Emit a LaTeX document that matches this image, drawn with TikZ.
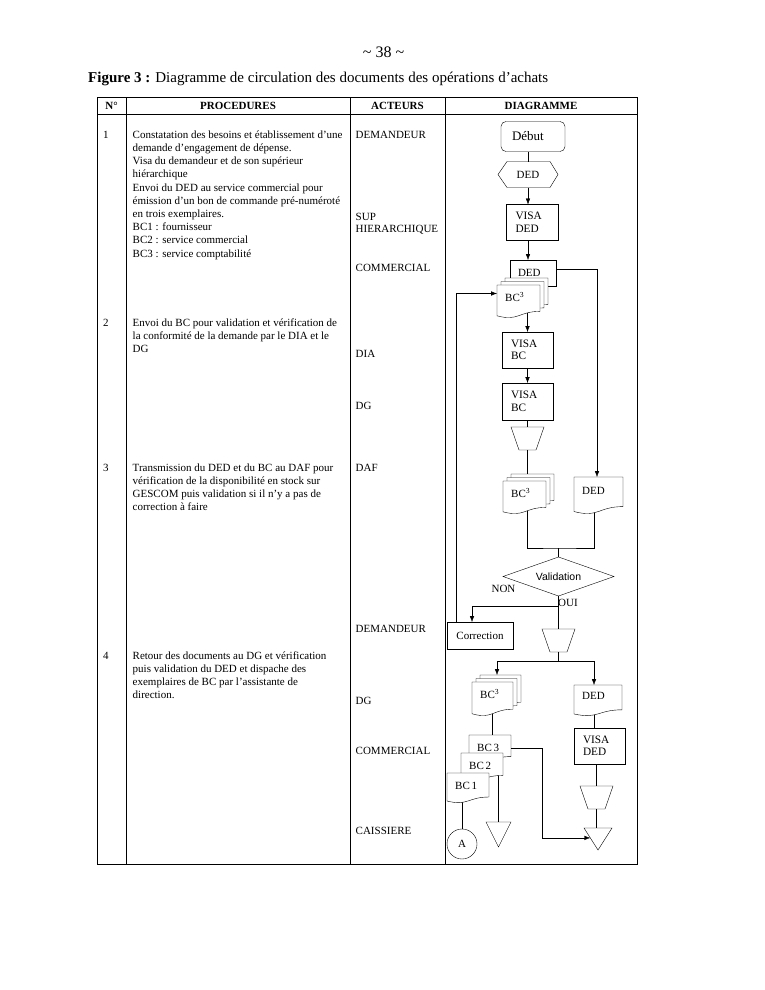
\documentclass[tikz,border=0pt]{standalone}
\usepackage{fontspec}
\setmainfont{Liberation Serif}
\newfontfamily\sansfnt{Liberation Sans}
\usetikzlibrary{arrows.meta,calc}
\pgfdeclarelayer{bg}
\pgfsetlayers{bg,main}
\tikzset{
  shp/.style={inner sep=0pt, outer sep=0pt},
  dlbl/.style={font=\fontsize{11}{12.5}\selectfont, inner sep=0pt},
  hd/.style={font=\fontsize{11}{13}\selectfont\bfseries, inner sep=0pt, anchor=base},
  act/.style={font=\fontsize{11}{13}\selectfont, inner sep=0pt, anchor=base west},
  vbox/.style={draw, fill=white, shp, minimum width=51, minimum height=36, text width=33, inner xsep=9pt, align=left, font=\fontsize{11.3}{12.5}\selectfont},
}
\newcommand\proctext[1]{\parbox[t]{240pt}{\fontsize{11}{13.2}\selectfont\raggedright #1}}
\newcommand\docshape[5]{%
  \pgfmathsetmacro\dcXa{#2}\pgfmathsetmacro\dcYa{#3}%
  \pgfmathsetmacro\dcXb{#4}\pgfmathsetmacro\dcYb{#5}%
  \pgfmathsetmacro\dcXm{(\dcXa+\dcXb)/2}\pgfmathsetmacro\dcH{\dcYb-\dcYa}%
  \pgfmathsetmacro\dcW{\dcXb-\dcXa}%
  \filldraw[fill=white] (\dcXa,\dcYa) -- (\dcXb,\dcYa) -- (\dcXb,\dcYa+0.8*\dcH)
    .. controls (\dcXm,\dcYa+0.8*\dcH) and (\dcXm,\dcYa+1.107*\dcH) .. (\dcXa,\dcYa+0.934*\dcH) -- cycle;
  \node[shp, minimum width=\dcW, minimum height=\dcH] (#1) at (\dcXm,\dcYa+0.5*\dcH) {};}
\newcommand\docnode[7]{\docshape{#1}{#2}{#3}{#4}{#5}%
  \node[dlbl, anchor=west] at (\dcXa+8,\dcYa+#7*\dcH) {#6};}
\newcommand\bcstack[5]{%
  \docshape{#1b}{#2+8}{#3-7}{#4+8}{#5-7}%
  \docshape{#1m}{#2+4}{#3-3.5}{#4+4}{#5-3.5}%
  \docnode{#1}{#2}{#3}{#4}{#5}{BC\textsuperscript{3}}{0.35}}
\newcommand\trapshape[1]{\draw (#1.north west) -- (#1.north east) -- ([xshift=-8pt]#1.south east) -- ([xshift=8pt]#1.south west) -- cycle;}
\newcommand\trishape[1]{\draw (#1.north west) -- (#1.north east) -- (#1.south) -- cycle;}
\begin{document}
\begin{tikzpicture}[x=1pt,y=-1pt, line width=0.9pt, >={Latex[length=6pt,width=4.5pt]}]
\begin{pgfonlayer}{bg}
\fill[white] (0,0) rectangle (765,990);
\end{pgfonlayer}
\useasboundingbox (0,0) rectangle (765,990);

% page number and caption
\node[anchor=base, inner sep=0pt, font=\fontsize{16}{18}\selectfont] (pg) at (383.5,57) {\textasciitilde{} 38 \textasciitilde};
\node[anchor=base west, inner sep=0pt, font=\fontsize{15}{18}\selectfont] (cap) at (88,82)
  {\textbf{Figure 3 :} Diagramme de circulation des documents des opérations d’achats};

% table
\draw (97,97) rectangle (637,864);
\draw (97,114) -- (637,114);
\draw (126,97) -- (126,864);
\draw (350,97) -- (350,864);
\draw (445,97) -- (445,864);
\node[hd] (h1) at (111.5,109) {N°};
\node[hd] (h2) at (238,109) {PROCEDURES};
\node[hd] (h3) at (397.5,109) {ACTEURS};
\node[hd] (h4) at (541,109) {DIAGRAMME};

% numbers
\node[act] (n1) at (103,138.3) {1};
\node[act] (n2) at (103,326) {2};
\node[act] (n3) at (103,471) {3};
\node[act] (n4) at (103,659) {4};

% procedures
\node[anchor=base west, inner sep=0pt] (p1) at (132.5,138.3) {\proctext{%
Constatation des besoins et établissement d’une\\
demande d’engagement de dépense.\\
Visa du demandeur et de son supérieur\\
hiérarchique\\
Envoi du DED au service commercial pour\\
émission d’un bon de commande pré-numéroté\\
en trois exemplaires.\\
BC1 : fournisseur\\
BC2 : service commercial\\
BC3 : service comptabilité}};
\node[anchor=base west, inner sep=0pt] (p2) at (132.5,326) {\proctext{%
Envoi du BC pour validation et vérification de\\
la conformité de la demande par le DIA et le\\
DG}};
\node[anchor=base west, inner sep=0pt] (p3) at (132.5,471) {\proctext{%
Transmission du DED et du BC au DAF pour\\
vérification de la disponibilité en stock sur\\
GESCOM puis validation si il n’y a pas de\\
correction à faire}};
\node[anchor=base west, inner sep=0pt] (p4) at (132.5,659) {\proctext{%
Retour des documents au DG et vérification\\
puis validation du DED et dispache des\\
exemplaires de BC par l’assistante de\\
direction.}};

% acteurs
\node[act] (a1) at (355.5,138) {DEMANDEUR};
\node[act] (a2) at (355.5,220) {SUP};
\node[act] (a2b) at (355.5,232) {HIERARCHIQUE};
\node[act] (a3) at (355.5,271) {COMMERCIAL};
\node[act] (a4) at (355.5,357) {DIA};
\node[act] (a5) at (355.5,409) {DG};
\node[act] (a6) at (355.5,471) {DAF};
\node[act] (a7) at (355.5,632) {DEMANDEUR};
\node[act] (a8) at (355.5,704) {DG};
\node[act] (a9) at (355.5,754) {COMMERCIAL};
\node[act] (a10) at (355.5,834) {CAISSIERE};

% ---------- diagram ----------
\node[draw, shp, rounded corners=5pt, minimum width=64, minimum height=30, text width=42, inner xsep=11pt, align=left, font=\fontsize{13}{14}\selectfont] (deb) at (533,136.5) {Début};
\node[shp, minimum width=60, minimum height=26, dlbl] (hex) at (528,174.5) {DED};
\draw (hex.west) -- ([xshift=9pt]hex.north west) -- ([xshift=-8pt]hex.north east) -- (hex.east) -- ([xshift=-8pt]hex.south east) -- ([xshift=9pt]hex.south west) -- cycle;
\node[vbox, minimum width=52] (visa1) at (532,222.5) {VISA\\DED};

\node[draw, fill=white, shp, minimum width=46, minimum height=26, text width=30, inner xsep=8pt, align=left, dlbl] (dedA) at (533,273) {DED};
\bcstack{bcA}{497}{285}{540}{318}

\node[vbox] (visaB) at (527.5,350) {VISA\\BC};
\node[vbox, minimum height=37] (visaC) at (527.5,401.5) {VISA\\BC};
\node[shp, minimum width=33, minimum height=23] (trapA) at (527.5,438.5) {};
\trapshape{trapA}

\bcstack{bcB}{503}{481}{546}{514}
\docnode{ded2}{574}{477}{623}{514}{DED}{0.37}

\node[shp, minimum width=111, minimum height=39, font=\sansfnt\fontsize{10.5}{12}\selectfont] (valid) at (558.5,576.5) {Validation};
\draw (valid.west) -- (valid.north) -- (valid.east) -- (valid.south) -- cycle;
\node[dlbl, anchor=base] (non) at (503.5,592) {NON};
\node[dlbl, anchor=base] (oui) at (568,606) {OUI};

\node[draw, shp, minimum width=66, minimum height=27, dlbl] (corr) at (480,635.5) {Correction};
\node[shp, minimum width=33, minimum height=23] (trapB) at (558.5,640.5) {};
\trapshape{trapB}

\bcstack{bcC}{472}{682}{513}{716}
\docnode{ded3}{574}{685}{622}{716}{DED}{0.36}
\node[vbox] (visaD) at (599.5,746) {VISA\\DED};
\node[shp, minimum width=33, minimum height=23] (trapC) at (596.5,797.5) {};
\trapshape{trapC}
\node[shp, minimum width=28, minimum height=22] (triC) at (598,839) {};
\trishape{triC}

\docnode{bc3}{469}{735}{511}{762}{BC\,3}{0.47}
\docnode{bc2}{461}{753}{503}{781}{BC\,2}{0.46}
\docnode{bc1}{447}{773}{489}{803}{BC\,1}{0.44}
\node[shp, minimum width=25, minimum height=25] (triE) at (498.5,834.5) {};
\trishape{triE}
\node[draw, circle, shp, minimum size=30, dlbl] (circA) at (462,844) {A};

% ---------- connectors ----------
\draw (hex.north) -- (hex.north |- deb.south);
\draw[->] (hex.south) -- (hex.south |- visa1.north);
\draw[->] (hex.south |- visa1.south) -- (hex.south |- dedA.north);
\draw[->] ([yshift=4pt]dedA.east) -| ([xshift=-1.5pt]ded2.north);
\draw[->] ([xshift=-24pt]corr.north) |- ([yshift=8pt]bcA.west);
\draw[->] (visaB.south) -- (visaC.north);
\draw (visaC.south) -- (trapA.north);
\coordinate (j) at (558.5,548);
\draw (j) -- (valid.north);
\draw (valid.south) -- (trapB.north);
\coordinate (b1) at ($(valid.south)+(0,10)$);
\draw[->] (b1) -| ([xshift=-8pt]corr.north);
\coordinate (s) at ($(trapB.south)+(0,9)$);
\coordinate (s3) at (497,661);
\draw (trapB.south) -- (s);
\draw[->] (s) -- (s3) -- (s3 |- bcCb.north);
\draw[->] (s) -| ([xshift=-4pt]ded3.north);
\draw (trapC.north |- visaD.south) -- (trapC.north);
\draw (trapC.south) -- (trapC.south |- triC.north);
\coordinate (t1) at ($(triC.north west)!0.45!(triC.south)$);
\draw[->] (bc3.east) -- ++(31,0) |- (t1);

\begin{pgfonlayer}{bg}
\draw[->] (bcA.center -| visaB.north) -- (visaB.north);
\draw (trapA.south) -- (trapA.south |- bcBb.center);
\draw (trapA.south |- bcB.center) |- (j) -| ([xshift=-4.5pt]ded2.center);
\draw ([xshift=-4pt]ded3.center) -- ([xshift=-4pt]ded3.center |- visaD.north);
\draw (bcC.center) -- (bcC.center |- bc3.north);
\draw (bc2.center -| triE.north) -- (triE.north);
\draw (bc1.center -| circA.north) -- (circA.north);
\end{pgfonlayer}
\end{tikzpicture}
\end{document}
